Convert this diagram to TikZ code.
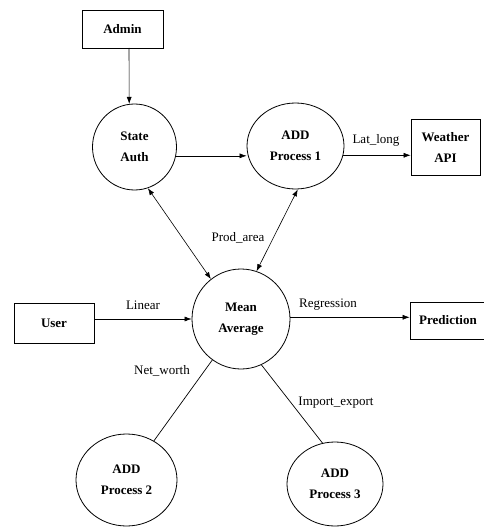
\documentclass[tikz,border=0pt]{standalone}
\usepackage{fontspec}
\setmainfont{Liberation Serif}
\usetikzlibrary{shapes.geometric,arrows.meta}
\begin{document}
\begin{tikzpicture}[x=1pt,y=-1pt,
  every node/.style={font=\fontsize{13}{21}\selectfont},
  ent/.style={draw,rectangle,inner sep=0pt,align=center,font=\fontsize{13}{21}\selectfont\bfseries,line width=0.7pt},
  proc/.style={draw,ellipse,inner sep=0pt,align=center,font=\fontsize{13}{21}\selectfont\bfseries,line width=0.8pt},
  arr/.style={line width=0.6pt,-{Latex[length=7pt,width=5pt]}},
  darr/.style={line width=0.6pt,{Latex[length=7pt,width=5pt]}-{Latex[length=7pt,width=5pt]}},
  ln/.style={line width=0.7pt},
  lbl/.style={inner sep=0pt}]
\useasboundingbox (0,0) rectangle (483,527);
\fill[white] (0,0) rectangle (483,527);
\node[ent,minimum width=81pt,minimum height=38pt] (admin) at (122.5,29) {Admin};
\node[ent,minimum width=69pt,minimum height=56pt] (weather) at (445.5,147) {Weather\\API};
\node[ent,minimum width=80pt,minimum height=40pt] (user) at (54,323) {User};
\node[ent,minimum width=76pt,minimum height=37pt] (pred) at (448,320.5) {Prediction};
\node[proc,minimum width=84pt,minimum height=86pt] (state) at (134.5,147) {State\\Auth};
\node[proc,minimum width=97pt,minimum height=86pt] (add1) at (295.5,146) {ADD\\Process 1};
\node[proc,minimum width=98pt,minimum height=100pt] (mean) at (241,319) {Mean\\Average};
\node[proc,minimum width=101pt,minimum height=92pt] (p2) at (126.5,480) {ADD\\Process 2};
\node[proc,minimum width=96pt,minimum height=84pt] (p3) at (335,484) {ADD\\Process 3};
\coordinate (a1) at (129,48);
\draw[arr] (a1) -- (state.97);
\draw[arr] (state.-12) -- (state.-12 -| add1.west);
\draw[arr] (add1.-11) -- (add1.-11 -| weather.west);
\draw[darr] (add1.-87) -- (mean.72);
\draw[darr] (state.-72) -- (mean.127);
\draw[arr] (mean.west -| user.east) -- (mean.west);
\draw[arr] (mean.2) -- (mean.2 -| pred.west);
\draw[ln] (mean.235) -- (p2.55);
\draw[ln] (mean.-66) -- (p3.107);
\node[lbl] (llat) at (376,140) {Lat\_long};
\node[lbl] (lprod) at (238,238) {Prod\_area};
\node[lbl] (llin) at (143,305) {Linear};
\node[lbl] (lreg) at (328,305) {Regression};
\node[lbl] (lnet) at (162,371) {Net\_worth};
\node[lbl] (limp) at (336,403) {Import\_export};
\end{tikzpicture}
\end{document}
